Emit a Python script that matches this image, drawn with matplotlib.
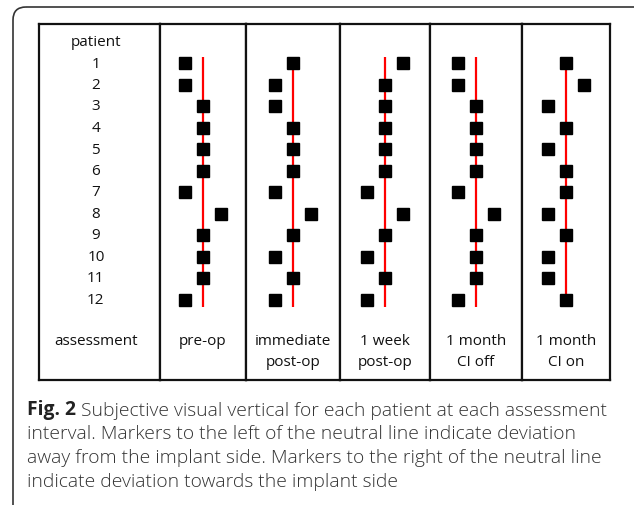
import matplotlib.pyplot as plt
from matplotlib.patches import FancyBboxPatch

W, H = 634, 506

patients = list(range(1, 13))
assessments = ['pre-op', 'immediate\npost-op', '1 week\npost-op', '1 month\nCI off', '1 month\nCI on']
# -1 = left of neutral line (away from implant), 0 = on line, 1 = right (towards implant)
pre_op = [-1, -1, 0, 0, 0, 0, -1, 1, 0, 0, 0, -1]
immediate_post_op = [0, -1, -1, 0, 0, 0, -1, 1, 0, -1, 0, -1]
week_post_op = [1, 0, 0, 0, 0, 0, -1, 1, 0, -1, 0, -1]
month_ci_off = [-1, -1, 0, 0, 0, 0, -1, 1, 0, 0, 0, -1]
month_ci_on = [0, 1, -1, 0, -1, 0, 0, -1, 0, -1, -1, 0]
series = [pre_op, immediate_post_op, week_post_op, month_ci_off, month_ci_on]

caption_bold = 'Fig. 2'
caption_lines = [
    ' Subjective visual vertical for each patient at each assessment',
    'interval. Markers to the left of the neutral line indicate deviation',
    'away from the implant side. Markers to the right of the neutral line',
    'indicate deviation towards the implant side',
]

plt.rcParams['font.family'] = ['Open Sans', 'DejaVu Sans']

# layout in pixels
col_edges = [39, 160, 246, 340, 430, 522, 610]
table_top, table_bottom = 25, 381
row0_y, row_step = 64, 21.5
offset_px = 18
line_c = '#111111'
text_c = '#111111'
tsize = 11


def px_rect(x0, y0, x1, y1):
    return [x0 / W, 1 - y1 / H, (x1 - x0) / W, (y1 - y0) / H]


def px_to_row(y):
    return (y - row0_y) / row_step + 1


fig = plt.figure(figsize=(W / 100, H / 100), dpi=100)

# outer rounded frame (bottom/right run off the image)
bg = fig.add_axes([0, 0, 1, 1])
bg.set_xlim(0, W)
bg.set_ylim(H, 0)
bg.axis('off')
bg.add_patch(FancyBboxPatch((13, 8), 640, 520, boxstyle='round,pad=0,rounding_size=13',
                            fc='none', ec='#333333', lw=1.2))

ylim = (px_to_row(table_bottom), px_to_row(table_top))

# patient column
ax = fig.add_axes(px_rect(col_edges[0], table_top, col_edges[1], table_bottom))
ax.set_xlim(0, 1)
ax.set_ylim(*ylim)
ax.set_xticks([])
ax.set_yticks([])
for s in ax.spines.values():
    s.set_linewidth(1.6)
    s.set_color(line_c)
ax.text(0.47, 0.02, 'patient', ha='center', va='center', fontsize=tsize, color=text_c)
for p in patients:
    ax.text(0.47, p, str(p), ha='center', va='center', fontsize=tsize, color=text_c)
ax.text(0.47, 13.93, 'assessment', ha='center', va='center', fontsize=tsize, color=text_c)

# assessment columns
for i, (name, vals) in enumerate(zip(assessments, series)):
    x0, x1 = col_edges[i + 1], col_edges[i + 2]
    half = (x1 - x0) / 2 / offset_px
    ax = fig.add_axes(px_rect(x0, table_top, x1, table_bottom))
    ax.set_xlim(-half, half)
    ax.set_ylim(*ylim)
    ax.set_xticks([])
    ax.set_yticks([])
    for s in ax.spines.values():
        s.set_linewidth(1.6)
        s.set_color(line_c)
    ax.vlines(0, patients[0] - 0.28, patients[-1] + 0.35, color='#ff0000', lw=1.6, zorder=1)
    ax.plot(vals, patients, marker='s', markersize=8.6, linestyle='none', color='black', zorder=2)
    for k, part in enumerate(name.split('\n')):
        ax.text(0, 13.93 + k * 0.97, part, ha='center', va='center', fontsize=tsize, color=text_c)

# caption
cap_size = 13.9
t = fig.text(27 / W, 1 - 415 / H, caption_bold, fontsize=cap_size, fontweight='bold',
             color='#222222', va='baseline', ha='left')
bg.annotate(caption_lines[0], xy=(1, 0), xycoords=t, va='bottom', ha='left',
            fontsize=cap_size, fontweight='light', color='#333333')
for k, line in enumerate(caption_lines[1:], start=1):
    fig.text(27 / W, 1 - (415 + 24 * k) / H, line, fontsize=cap_size, fontweight='light',
             color='#333333', va='baseline', ha='left')

fig.savefig('out.png', dpi=100)
